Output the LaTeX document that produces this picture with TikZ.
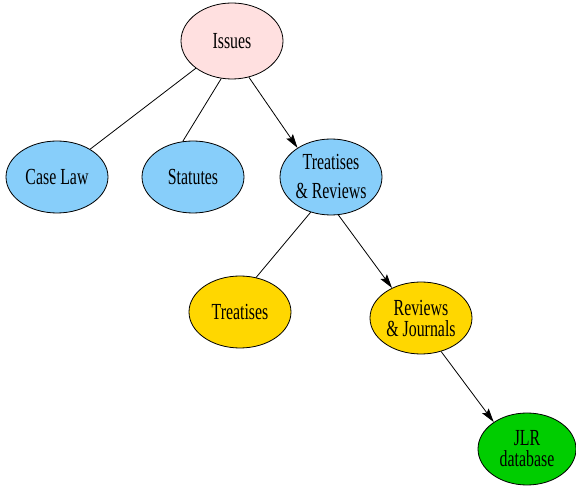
\documentclass[tikz,border=0pt]{standalone}
\usepackage{fontspec}
\setmainfont{Liberation Serif}[FakeStretch=0.69]
\usepackage{tikz}
\usetikzlibrary{arrows.meta}
\usetikzlibrary{shapes.geometric}

\definecolor{issuepink}{RGB}{255,224,224}
\definecolor{quellblau}{RGB}{135,206,250}
\definecolor{quellgelb}{RGB}{255,215,0}
\definecolor{quellgruen}{RGB}{0,205,0}

\begin{document}
\begin{tikzpicture}[x=1pt,y=-1pt,
    blatt/.style={ellipse, draw, line width=0.8pt, minimum width=102pt, minimum height=72pt,
        inner sep=0pt, align=center, font=\fontsize{23}{21}\selectfont},
    kante/.style={line width=0.8pt},
    pfeil/.style={kante, -{Stealth[length=14pt,width=8pt,inset=2.5pt]}}]
    \useasboundingbox (0,0) rectangle (576,486);

    % Knoten
    \node[blatt, fill=issuepink, minimum height=76pt] (issues) at (232,41) {Issues};
    \node[blatt, fill=quellblau] (caselaw) at (57,177) {Case Law};
    \node[blatt, fill=quellblau] (statutes) at (193,177) {Statutes};
    \node[blatt, fill=quellblau, minimum height=76pt] (treatrev) at (331,177) {Treatises\\[8pt]\& Reviews};
    \node[blatt, fill=quellgelb] (treatises) at (240,312) {Treatises};
    \node[blatt, fill=quellgelb] (revjourn) at (421,318) {Reviews\\\& Journals};
    \node[blatt, fill=quellgruen, minimum width=98pt] (jlr) at (527,449) {JLR\\database};

    % Kanten
    \draw[kante] (issues.-143) -- (caselaw.40);
    \draw[kante] (issues.-106) -- (statutes.106);
    \draw[pfeil] (issues.-65) -- (treatrev.139);
    \draw[kante] (treatrev.-120) -- (treatises.65);
    \draw[pfeil] (treatrev.-79) -- (revjourn.134);
    \draw[pfeil] (revjourn.-59) -- (jlr.141);
\end{tikzpicture}
\end{document}
